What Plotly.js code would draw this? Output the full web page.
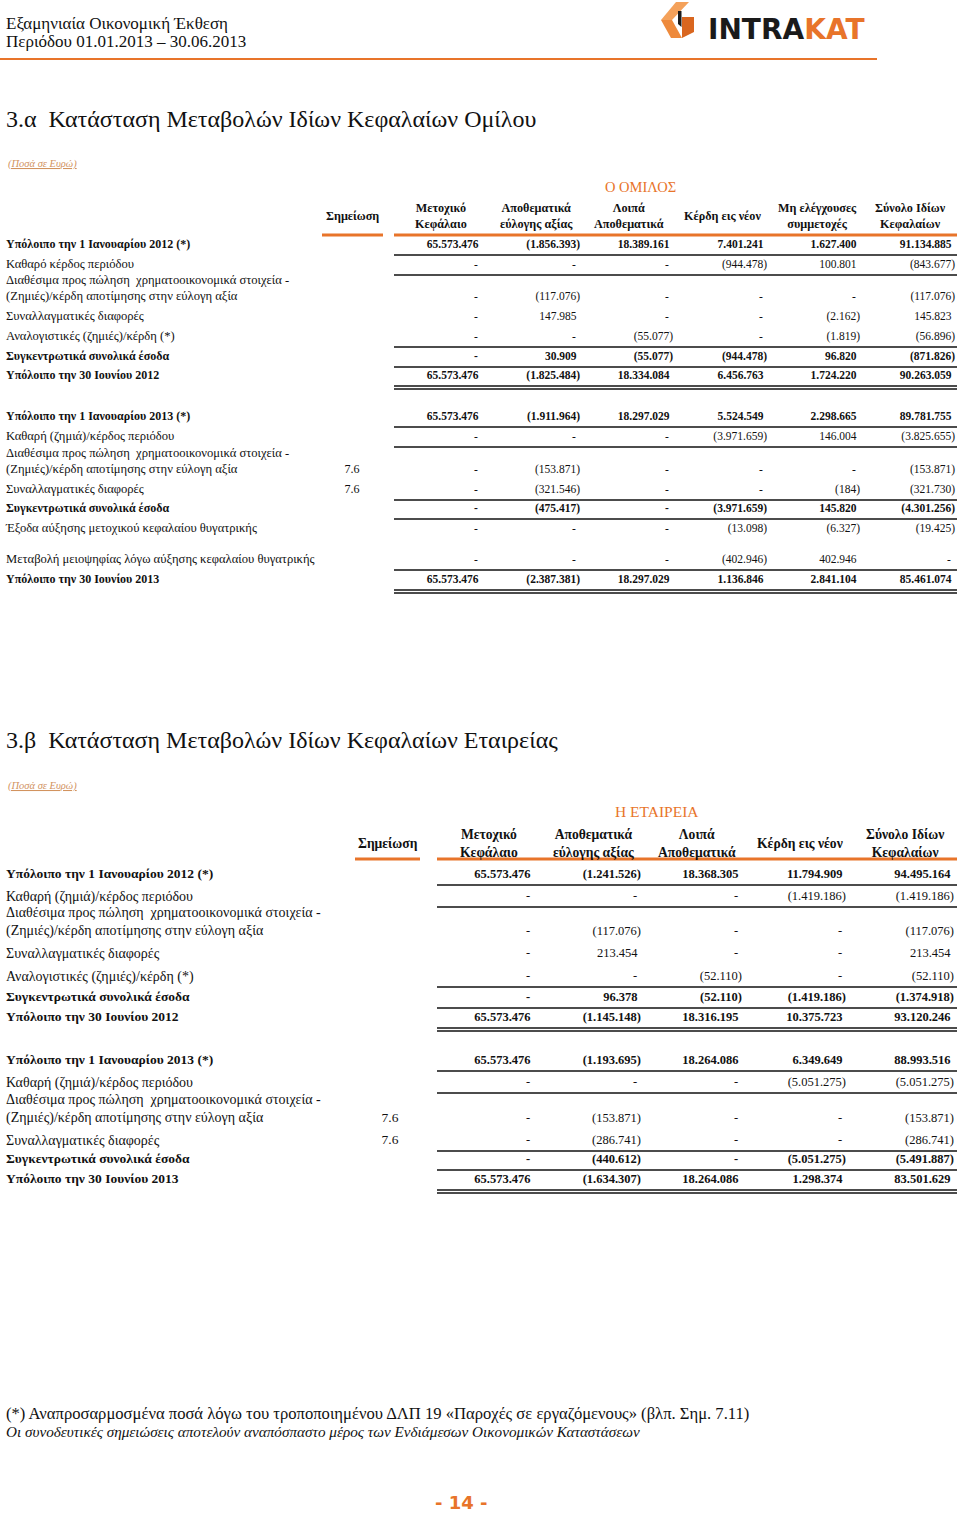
<!DOCTYPE html>
<html>
<head>
<meta charset="utf-8">
<script src="https://cdn.plot.ly/plotly-3.0.1.min.js"></script>
<style>
  body { margin: 0; background: #fff; }
  #page { width: 960px; height: 1513px; }
</style>
</head>
<body>
<div id="page"></div>
<script>
// ---- Ο ΟΜΙΛΟΣ (group) ----
const groupColumns = ['Μετοχικό<br>Κεφάλαιο', 'Αποθεματικά<br>εύλογης αξίας', 'Λοιπά<br>Αποθεματικά',
  'Κέρδη εις νέον', 'Μη ελέγχουσες<br>συμμετοχές', 'Σύνολο Ιδίων<br>Κεφαλαίων'];
const groupLabels = [
  'Υπόλοιπο την 1 Ιανουαρίου 2012 (*)',
  'Καθαρό κέρδος περιόδου',
  'Διαθέσιμα προς πώληση  χρηματοοικονομικά στοιχεία -<br>(Ζημιές)/κέρδη αποτίμησης στην εύλογη αξία',
  'Συναλλαγματικές διαφορές',
  'Αναλογιστικές (ζημιές)/κέρδη (*)',
  'Συγκεντρωτικά συνολικά έσοδα',
  'Υπόλοιπο την 30 Ιουνίου 2012',
  'Υπόλοιπο την 1 Ιανουαρίου 2013 (*)',
  'Καθαρή (ζημιά)/κέρδος περιόδου',
  'Διαθέσιμα προς πώληση  χρηματοοικονομικά στοιχεία -<br>(Ζημιές)/κέρδη αποτίμησης στην εύλογη αξία',
  'Συναλλαγματικές διαφορές',
  'Συγκεντρωτικά συνολικά έσοδα',
  'Έξοδα αύξησης μετοχικού κεφαλαίου θυγατρικής',
  'Μεταβολή μειοψηφίας λόγω αύξησης κεφαλαίου θυγατρικής',
  'Υπόλοιπο την 30 Ιουνίου 2013'
];
const groupNotes = ['', '', '', '', '', '', '', '', '', '7.6', '7.6', '', '', '', ''];
const groupBold = [true, false, false, false, false, true, true, true, false, false, false, true, false, false, true];
const groupShareCapital = [65573476, 0, 0, 0, 0, 0, 65573476, 65573476, 0, 0, 0, 0, 0, 0, 65573476];
const groupFairValue = [-1856393, 0, -117076, 147985, 0, 30909, -1825484, -1911964, 0, -153871, -321546, -475417, 0, 0, -2387381];
const groupOtherReserves = [18389161, 0, 0, 0, -55077, -55077, 18334084, 18297029, 0, 0, 0, 0, 0, 0, 18297029];
const groupRetained = [7401241, -944478, 0, 0, 0, -944478, 6456763, 5524549, -3971659, 0, 0, -3971659, -13098, -402946, 1136846];
const groupNonControlling = [1627400, 100801, 0, -2162, -1819, 96820, 1724220, 2298665, 146004, 0, -184, 145820, -6327, 402946, 2841104];
const groupTotal = [91134885, -843677, -117076, 145823, -56896, -871826, 90263059, 89781755, -3825655, -153871, -321730, -4301256, -19425, 0, 85461074];

// ---- Η ΕΤΑΙΡΕΙΑ (company) ----
const companyColumns = ['Μετοχικό<br>Κεφάλαιο', 'Αποθεματικά<br>εύλογης αξίας', 'Λοιπά<br>Αποθεματικά',
  'Κέρδη εις νέον', 'Σύνολο Ιδίων<br>Κεφαλαίων'];
const companyLabels = [
  'Υπόλοιπο την 1 Ιανουαρίου 2012 (*)',
  'Καθαρή (ζημιά)/κέρδος περιόδου',
  'Διαθέσιμα προς πώληση  χρηματοοικονομικά στοιχεία -<br>(Ζημιές)/κέρδη αποτίμησης στην εύλογη αξία',
  'Συναλλαγματικές διαφορές',
  'Αναλογιστικές (ζημιές)/κέρδη (*)',
  'Συγκεντρωτικά συνολικά έσοδα',
  'Υπόλοιπο την 30 Ιουνίου 2012',
  'Υπόλοιπο την 1 Ιανουαρίου 2013 (*)',
  'Καθαρή (ζημιά)/κέρδος περιόδου',
  'Διαθέσιμα προς πώληση  χρηματοοικονομικά στοιχεία -<br>(Ζημιές)/κέρδη αποτίμησης στην εύλογη αξία',
  'Συναλλαγματικές διαφορές',
  'Συγκεντρωτικά συνολικά έσοδα',
  'Υπόλοιπο την 30 Ιουνίου 2013'
];
const companyNotes = ['', '', '', '', '', '', '', '', '', '7.6', '7.6', '', ''];
const companyBold = [true, false, false, false, false, true, true, true, false, false, false, true, true];
const companyShareCapital = [65573476, 0, 0, 0, 0, 0, 65573476, 65573476, 0, 0, 0, 0, 65573476];
const companyFairValue = [-1241526, 0, -117076, 213454, 0, 96378, -1145148, -1193695, 0, -153871, -286741, -440612, -1634307];
const companyOtherReserves = [18368305, 0, 0, 0, -52110, -52110, 18316195, 18264086, 0, 0, 0, 0, 18264086];
const companyRetained = [11794909, -1419186, 0, 0, 0, -1419186, 10375723, 6349649, -5051275, 0, 0, -5051275, 1298374];
const companyTotal = [94495164, -1419186, -117076, 213454, -52110, -1374918, 93120246, 88993516, -5051275, -153871, -286741, -5491887, 83501629];

// ---- page layout (pixels) ----
const SERIF = '"Liberation Serif", serif';
const ORANGE = '#E8742A';
const INK = '#111111';

const groupPos = {
  rowY: [245, 265, 297, 317, 337, 357, 376, 417, 437, 470, 490, 509, 529, 560, 580],
  colRight: [482, 580, 673, 767, 860, 955],
  colCenter: [441, 536, 629, 722, 817, 910],
  labelX: 6, noteX: 352, size: 11.5, labelSize: 12.6, boldLabelSize: 12, headSize: 12.2, capSize: 14.5,
  headerY: 216, captionY: 187, captionX: 640,
  noteRule: [322, 383], dataRule: [394, 957], headRuleY: 235,
  rules: [[0, 's'], [1, 's'], [4, 's'], [5, 's'], [6, 'd'], [7, 's'], [8, 's'], [10, 's'], [11, 's'], [13, 's'], [14, 'd']]
};
const companyPos = {
  rowY: [875, 897, 932, 954, 977, 998, 1018, 1061, 1083, 1119, 1141, 1160, 1180],
  colRight: [534, 641, 742, 846, 954],
  colCenter: [489, 593, 697, 800, 905],
  labelX: 6, noteX: 390, size: 12.5, labelSize: 14, boldLabelSize: 13.5, headSize: 13.6, capSize: 15.5,
  headerY: 843, captionY: 811, captionX: 657,
  noteRule: [355, 420], dataRule: [437, 957], headRuleY: 859,
  rules: [[0, 's'], [1, 's'], [4, 's'], [5, 's'], [6, 'd'], [7, 's'], [8, 's'], [10, 's'], [11, 's'], [12, 'd']]
};

function fmt(v) {
  if (v === 0) return '-';
  const s = Math.abs(v).toString().replace(/\B(?=(\d{3})+(?!\d))/g, '.');
  return v < 0 ? '(' + s + ')' : s;
}

function textTrace(xs, ys, texts, pos, size, bold, color) {
  return {
    type: 'scatter', mode: 'text', x: xs, y: ys, text: texts,
    textposition: pos, cliponaxis: false, hoverinfo: 'skip', showlegend: false,
    marker: { size: 0 },
    textfont: { family: SERIF, size: size, color: color || INK, weight: bold ? 'bold' : 'normal' }
  };
}

const traces = [];
const shapes = [];
const annotations = [];

function buildTable(labels, notes, bold, columns, cols, p, caption) {
  // cells
  [true, false].forEach(isBold => {
    const x = [], y = [], t = [], tp = [];
    const lx = [], ly = [], lt = [];
    const nx = [], ny = [], nt = [];
    const lsize = isBold ? p.boldLabelSize : p.labelSize;
    labels.forEach((lab, i) => {
      if (bold[i] !== isBold) return;
      const multi = lab.indexOf('<br>') >= 0;
      lx.push(p.labelX); ly.push(multi ? p.rowY[i] - lsize * 0.65 : p.rowY[i]); lt.push(lab);
      if (notes[i]) { nx.push(p.noteX); ny.push(p.rowY[i]); nt.push(notes[i]); }
      cols.forEach((col, c) => {
        const v = col[i];
        const s = fmt(v);
        if (v === 0) { x.push(p.colRight[c] - 6); tp.push('middle center'); }
        else if (v < 0) { x.push(p.colRight[c]); tp.push('middle left'); }
        else { x.push(p.colRight[c] - 3.5); tp.push('middle left'); }
        y.push(p.rowY[i]); t.push(s);
      });
    });
    traces.push(textTrace(lx, ly, lt, 'middle right', lsize, isBold));
    traces.push(textTrace(x, y, t, tp, p.size, isBold));
    if (nx.length) traces.push(textTrace(nx, ny, nt, 'middle center', p.labelSize - 0.5, false));
  });

  // caption and column headers
  annotations.push({ x: p.captionX, y: p.captionY, text: caption, showarrow: false,
    xanchor: 'center', yanchor: 'middle', font: { family: SERIF, size: p.capSize, color: ORANGE } });
  annotations.push({ x: (p.noteRule[0] + p.noteRule[1]) / 2, y: p.headerY, text: 'Σημείωση', showarrow: false,
    xanchor: 'center', yanchor: 'middle', font: { family: SERIF, size: p.headSize, color: INK, weight: 'bold' } });
  columns.forEach((h, c) => {
    annotations.push({ x: p.colCenter[c], y: p.headerY, text: h, showarrow: false,
      xanchor: 'center', yanchor: 'middle', align: 'center',
      font: { family: SERIF, size: p.headSize, color: INK, weight: 'bold' } });
  });

  // orange header rules
  [p.noteRule, p.dataRule].forEach(r => {
    shapes.push({ type: 'line', x0: r[0], x1: r[1], y0: p.headRuleY, y1: p.headRuleY,
      line: { color: ORANGE, width: 3 } });
  });
  // black rules under rows
  p.rules.forEach(([i, kind]) => {
    const y0 = p.rowY[i] + 10;
    const ys = kind === 'd' ? [y0, y0 + 3] : [y0];
    ys.forEach(yy => shapes.push({ type: 'line', x0: p.dataRule[0], x1: p.dataRule[1], y0: yy, y1: yy,
      line: { color: INK, width: 1.3 } }));
  });
}

buildTable(groupLabels, groupNotes, groupBold, groupColumns,
  [groupShareCapital, groupFairValue, groupOtherReserves, groupRetained, groupNonControlling, groupTotal],
  groupPos, 'Ο ΟΜΙΛΟΣ');
buildTable(companyLabels, companyNotes, companyBold, companyColumns,
  [companyShareCapital, companyFairValue, companyOtherReserves, companyRetained, companyTotal],
  companyPos, 'Η ΕΤΑΙΡΕΙΑ');

// page header
function note(x, y, text, size, opts) {
  annotations.push(Object.assign({ x: x, y: y, text: text, showarrow: false, xanchor: 'left', yanchor: 'middle',
    font: { family: SERIF, size: size, color: INK } }, opts || {}));
}
note(4, 23, 'Εξαμηνιαία Οικονομική Έκθεση', 17);
note(4, 41, 'Περιόδου 01.01.2013 – 30.06.2013', 17);
shapes.push({ type: 'line', x0: 0, x1: 877, y0: 59, y1: 59, line: { color: ORANGE, width: 2 } });

// logo
shapes.push({ type: 'path', path: 'M 676 2 L 689 2 L 672 20 L 661 20 Z', fillcolor: '#F4A15A', line: { width: 0 } });
shapes.push({ type: 'path', path: 'M 661 20 L 672 20 L 682 38 L 671 38 Z', fillcolor: '#EE8A3C', line: { width: 0 } });
shapes.push({ type: 'path', path: 'M 682 17 L 694 17 L 694 32 L 682 38 Z', fillcolor: '#D9661F', line: { width: 0 } });
shapes.push({ type: 'path', path: 'M 678 11 L 681.5 11 L 681.5 27 L 678 24 Z', fillcolor: '#1a1a1a', line: { width: 0 } });
annotations.push({ x: 706, y: 29, text: 'INTRA<span style="color:' + ORANGE + '">KAT</span>', showarrow: false,
  xanchor: 'left', yanchor: 'middle', font: { family: 'DejaVu Sans', size: 28, color: '#1a1a1a', weight: 'bold' } });

// section titles
note(4, 119, '3.α  Κατάσταση Μεταβολών Ιδίων Κεφαλαίων Ομίλου', 24);
note(6, 164, '<u><i>(Ποσά σε Ευρώ)</i></u>', 10.5, { font: { family: SERIF, size: 10.5, color: '#D2935F' } });
note(4, 740, '3.β  Κατάσταση Μεταβολών Ιδίων Κεφαλαίων Εταιρείας', 24);
note(6, 786, '<u><i>(Ποσά σε Ευρώ)</i></u>', 10.5, { font: { family: SERIF, size: 10.5, color: '#D2935F' } });

// footnotes
note(4, 1413, '(*) Αναπροσαρμοσμένα ποσά λόγω του τροποποιημένου ΔΛΠ 19 «Παροχές σε εργαζόμενους» (βλπ. Σημ. 7.11)', 16.6);
note(4, 1431, '<i>Οι συνοδευτικές σημειώσεις αποτελούν αναπόσπαστο μέρος των Ενδιάμεσων Οικονομικών Καταστάσεων</i>', 15.2);
annotations.push({ x: 461, y: 1502, text: '- 14 -', showarrow: false, xanchor: 'center', yanchor: 'middle',
  font: { family: 'DejaVu Sans', size: 18, color: ORANGE, weight: 'bold' } });

const layout = {
  width: 960, height: 1513,
  margin: { l: 0, r: 0, t: 0, b: 0 },
  paper_bgcolor: '#ffffff', plot_bgcolor: '#ffffff',
  xaxis: { range: [0, 960], visible: false, fixedrange: true },
  yaxis: { range: [1513, 0], visible: false, fixedrange: true },
  shapes: shapes,
  annotations: annotations,
  showlegend: false
};

Plotly.newPlot('page', traces, layout, { displayModeBar: false, staticPlot: true });
</script>
</body>
</html>
